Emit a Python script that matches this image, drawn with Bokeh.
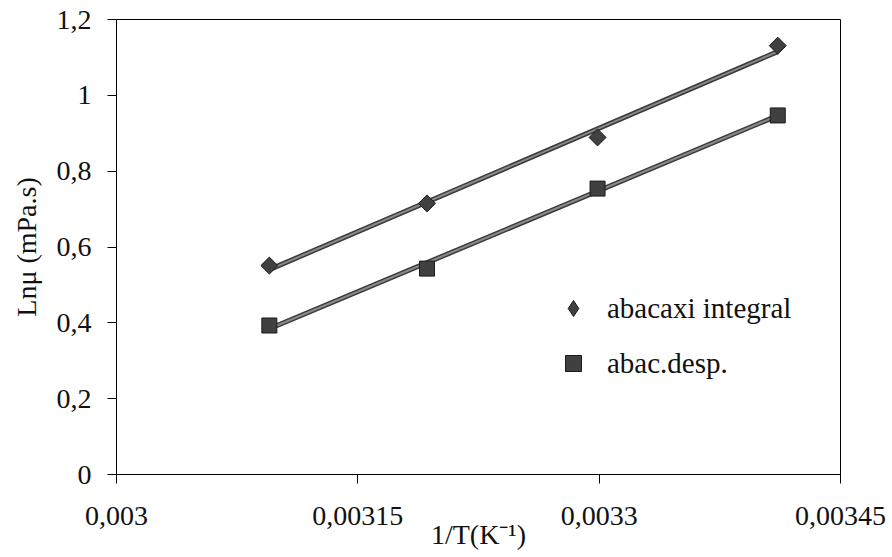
import numpy as np
from bokeh.plotting import figure
from bokeh.models import FixedTicker, Legend, LegendItem, Range1d
from bokeh.embed import file_html
from bokeh.resources import INLINE

# ---- data ----
inv_T = [0.003095, 0.003193, 0.003299, 0.003411]
ln_mu_integral = [0.551, 0.715, 0.889, 1.131]
ln_mu_desp = [0.393, 0.543, 0.754, 0.947]

x_ticks = [0.003, 0.00315, 0.0033, 0.00345]
x_tick_labels = ["0,003", "0,00315", "0,0033", "0,00345"]
y_ticks = [0, 0.2, 0.4, 0.6, 0.8, 1.0, 1.2]
y_tick_labels = ["0", "0,2", "0,4", "0,6", "0,8", "1", "1,2"]

series_names = ["abacaxi integral", "abac.desp."]

FONT = "serif"

p = figure(width=892, height=557, output_backend="svg", toolbar_location=None,
           x_range=Range1d(0.003, 0.00345), y_range=Range1d(0, 1.2),
           min_border_left=116, min_border_right=52, min_border_top=19,
           min_border_bottom=83)
p.background_fill_color = "white"
p.border_fill_color = "white"
p.outline_line_color = "black"
p.outline_line_width = 1
p.xgrid.visible = False
p.ygrid.visible = False

for ax, ticks, labels in ((p.xaxis[0], x_ticks, x_tick_labels), (p.yaxis[0], y_ticks, y_tick_labels)):
    ax.ticker = FixedTicker(ticks=ticks)
    ax.major_label_overrides = {t: l for t, l in zip(ticks, labels)}
    ax.minor_tick_line_color = None
    ax.major_tick_in = 0
    ax.major_tick_out = 9
    ax.major_tick_line_color = "black"
    ax.axis_line_color = "black"
    ax.major_label_text_font = FONT
    ax.major_label_text_font_size = "28px"
    ax.major_label_text_color = "#111111"
    ax.axis_label_text_font = FONT
    ax.axis_label_text_font_size = "28px"
    ax.axis_label_text_font_style = "normal"
    ax.axis_label_text_color = "#111111"

p.xaxis.axis_label = "1/T(K⁻¹)"
p.yaxis.axis_label = "Lnμ (mPa.s)"
p.xaxis.major_label_standoff = 23
p.xaxis.axis_label_standoff = -9
p.yaxis.major_label_standoff = 16
p.yaxis.axis_label_standoff = 12

xs = np.array(inv_T)
for ys, size, ang in ((ln_mu_integral, 12, np.pi / 4), (ln_mu_desp, 15, 0)):
    k, b = np.polyfit(xs, np.array(ys), 1)
    fx = [xs[0], xs[-1]]
    fy = [k * xs[0] + b, k * xs[-1] + b]
    p.line(fx, fy, line_color="#3a3a3a", line_width=5)
    p.line(fx, fy, line_color="#8a8a8a", line_width=2)
    p.scatter(inv_T, ys, marker="square", size=size, angle=ang,
              fill_color="#404040", line_color="#1a1a1a", line_width=1)

# legend proxies (no visible data points)
proxies = []
for marker in ("diamond", "square"):
    proxies.append(p.scatter(np.array([np.nan]), np.array([np.nan]), marker=marker,
                             fill_color="#404040", line_color="#1a1a1a", line_width=1))

legend = Legend(items=[LegendItem(label=n, renderers=[r]) for n, r in zip(series_names, proxies)],
                location=(437, 91), orientation="vertical")
legend.label_text_font = FONT
legend.label_text_font_size = "29px"
legend.label_text_color = "#111111"
legend.glyph_width = 40
legend.glyph_height = 40
legend.label_height = 24
legend.label_standoff = 14
legend.spacing = 15
legend.padding = 0
legend.margin = 0
legend.border_line_alpha = 0
legend.background_fill_alpha = 0
p.add_layout(legend, "center")

open("out.html", "w").write(file_html(p, INLINE))
